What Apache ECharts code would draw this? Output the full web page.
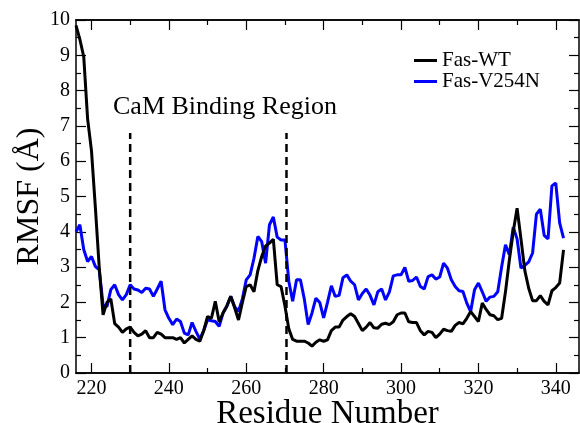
<!DOCTYPE html>
<html>
<head>
<meta charset="utf-8">
<script src="https://cdn.jsdelivr.net/npm/echarts@6/dist/echarts.min.js"></script>
<style>
html,body{margin:0;padding:0;background:#fff;}
#chart{width:580px;height:423px;}
</style>
</head>
<body>
<div id="chart"></div>
<script>
// Residue numbers
const residues = [];
for (let r = 216; r <= 342; r++) residues.push(r);

// RMSF values (Å), Fas-WT
const wtRMSF = [
  9.85, 9.45, 8.96, 7.2, 6.3, 4.7, 3.0, 1.65, 2.0, 2.1,
  1.4, 1.3, 1.15, 1.25, 1.3, 1.15, 1.05, 1.1, 1.2, 1.0,
  1.0, 1.15, 1.1, 1.0, 1.0, 1.0, 0.95, 1.0, 0.85, 0.95,
  1.05, 0.95, 0.9, 1.2, 1.6, 1.55, 2.03, 1.45, 1.7, 1.9,
  2.17, 1.85, 1.5, 2.0, 2.45, 2.5, 2.3, 2.9, 3.3, 3.6,
  3.68, 3.79, 2.5, 2.45, 1.9, 1.25, 0.95, 0.9, 0.9, 0.9,
  0.85, 0.76, 0.87, 0.94, 0.9, 0.94, 1.2, 1.3, 1.3, 1.5,
  1.6, 1.68, 1.6, 1.4, 1.2, 1.3, 1.43, 1.28, 1.27, 1.38,
  1.41, 1.37, 1.45, 1.65, 1.7, 1.7, 1.45, 1.43, 1.43, 1.2,
  1.08, 1.18, 1.15, 1.0, 1.1, 1.24, 1.2, 1.18, 1.35, 1.43,
  1.39, 1.55, 1.74, 1.6, 1.46, 1.98, 1.8, 1.65, 1.62, 1.51,
  1.55, 2.3, 3.2, 4.0, 4.67, 3.8, 2.9, 2.4, 2.05, 2.05,
  2.19, 2.03, 1.93, 2.33, 2.42, 2.55, 3.49
];

// RMSF values (Å), Fas-V254N
const mutRMSF = [
  4.0, 4.2, 3.5, 3.16, 3.3, 3.02, 2.92, 1.93, 1.88, 2.36,
  2.5, 2.22, 2.07, 2.22, 2.5, 2.38, 2.35, 2.28, 2.4, 2.38,
  2.17, 2.38, 2.6, 1.79, 1.55, 1.37, 1.53, 1.46, 1.13, 1.08,
  1.43, 1.18, 0.96, 1.2, 1.51, 1.48, 1.46, 1.32, 1.7, 1.9,
  2.17, 1.88, 1.75, 2.1, 2.64, 2.78, 3.25, 3.87, 3.72, 3.11,
  4.2, 4.42, 3.85, 3.77, 3.77, 2.6, 2.03, 2.64, 2.64, 2.1,
  1.37, 1.7, 2.12, 2.0, 1.56, 2.0, 2.47, 2.17, 2.2, 2.7,
  2.78, 2.6, 2.5, 2.07, 2.25, 2.38, 2.2, 1.93, 2.3, 2.38,
  2.07, 2.3, 2.75, 2.78, 2.78, 2.99, 2.6, 2.62, 2.72, 2.45,
  2.38, 2.73, 2.78, 2.66, 2.72, 3.11, 2.97, 2.64, 2.45, 2.33,
  2.31, 1.98, 1.74, 2.36, 2.55, 2.3, 2.03, 2.15, 2.17, 2.3,
  3.0, 3.63, 3.35, 4.13, 3.8, 2.97, 3.05, 3.15, 3.4, 4.5,
  4.64, 3.9, 3.8, 5.3, 5.38, 4.25, 3.82
];

// Tick values
const xMajorTicks = [220, 240, 260, 280, 300, 320, 340];
const xMinorTicks = [230, 250, 270, 290, 310, 330];
// CaM binding region boundaries (residue) and dashed-line height
const regionBounds = [230, 270.4];
const regionLineTop = 6.8;
const regionLabel = 'CaM Binding Region';

const seriesNames = ['Fas-WT', 'Fas-V254N'];

const FONT = '"Liberation Serif", "DejaVu Serif", serif';

const wtData = residues.map((r, i) => [r, wtRMSF[i]]);
const mutData = residues.map((r, i) => [r, mutRMSF[i]]);

const axisLineStyle = { color: '#000', width: 1.5 };

function xAxisDef(position, ticks, len, labels, extra) {
  return Object.assign({
    type: 'value', position: position, min: 216, max: 346, gridIndex: 0,
    axisLine: { show: true, onZero: false, lineStyle: axisLineStyle },
    axisTick: { show: true, inside: true, length: len, customValues: ticks, lineStyle: { color: '#000', width: 1.2 } },
    axisLabel: labels ? { show: true, customValues: ticks, color: '#000', fontFamily: FONT, fontSize: 20, margin: 6 } : { show: false },
    splitLine: { show: false }
  }, extra || {});
}
function yAxisDef(position, labels, extra) {
  return Object.assign({
    type: 'value', position: position, min: 0, max: 10, interval: 1, gridIndex: 0,
    axisLine: { show: true, onZero: false, lineStyle: axisLineStyle },
    axisTick: { show: true, inside: true, length: 10, lineStyle: { color: '#000', width: 1.2 } },
    minorTick: { show: true, splitNumber: 2, length: 5, lineStyle: { color: '#000', width: 1.2 } },
    axisLabel: labels ? { show: true, color: '#000', fontFamily: FONT, fontSize: 20, margin: 6 } : { show: false },
    splitLine: { show: false },
    minorSplitLine: { show: false }
  }, extra || {});
}

const chart = echarts.init(document.getElementById('chart'), null, { renderer: 'canvas' });
chart.setOption({
  animation: false,
  backgroundColor: '#fff',
  grid: { left: 76, top: 20, right: 1, bottom: 50, containLabel: false, outerBoundsMode: 'none' },
  legend: {
    data: seriesNames,
    orient: 'vertical',
    left: 409, top: 45,
    icon: 'rect', itemWidth: 23, itemHeight: 3, itemGap: 0,
    textStyle: { fontFamily: FONT, fontSize: 21, color: '#000', lineHeight: 20 }
  },
  xAxis: [
    xAxisDef('bottom', xMajorTicks, 10, true, {
      name: 'Residue Number', nameLocation: 'middle', nameGap: 25, nameMoveOverlap: false,
      nameTextStyle: { fontFamily: FONT, fontSize: 33, color: '#000' }
    }),
    xAxisDef('bottom', xMinorTicks, 5, false),
    xAxisDef('top', xMajorTicks, 10, false),
    xAxisDef('top', xMinorTicks, 5, false)
  ],
  yAxis: [
    yAxisDef('left', true, {
      name: 'RMSF (Å)', nameLocation: 'middle', nameGap: 30, nameMoveOverlap: false,
      nameTextStyle: { fontFamily: FONT, fontSize: 32, color: '#000' }
    }),
    yAxisDef('right', false)
  ],
  graphic: [{
    type: 'text', left: 113, top: 94,
    style: { text: regionLabel, fontFamily: FONT, fontSize: 26, fill: '#000' }
  }],
  series: [
    {
      name: seriesNames[0], type: 'line', data: wtData, xAxisIndex: 0, yAxisIndex: 0,
      showSymbol: false, symbol: 'none', color: '#000',
      lineStyle: { color: '#000', width: 3 }, z: 3
    },
    {
      name: seriesNames[1], type: 'line', data: mutData, xAxisIndex: 0, yAxisIndex: 0,
      showSymbol: false, symbol: 'none', color: '#0000ff',
      lineStyle: { color: '#0000ff', width: 3 }, z: 2
    },
    {
      name: 'regionStart', type: 'line', xAxisIndex: 0, yAxisIndex: 0,
      data: [[regionBounds[0], 0], [regionBounds[0], regionLineTop]],
      showSymbol: false, symbol: 'none', silent: true,
      lineStyle: { color: '#000', width: 2.5, type: [8, 5] }, z: 4
    },
    {
      name: 'regionEnd', type: 'line', xAxisIndex: 0, yAxisIndex: 0,
      data: [[regionBounds[1], 0], [regionBounds[1], regionLineTop]],
      showSymbol: false, symbol: 'none', silent: true,
      lineStyle: { color: '#000', width: 2.5, type: [8, 5] }, z: 4
    }
  ]
});
</script>
</body>
</html>
